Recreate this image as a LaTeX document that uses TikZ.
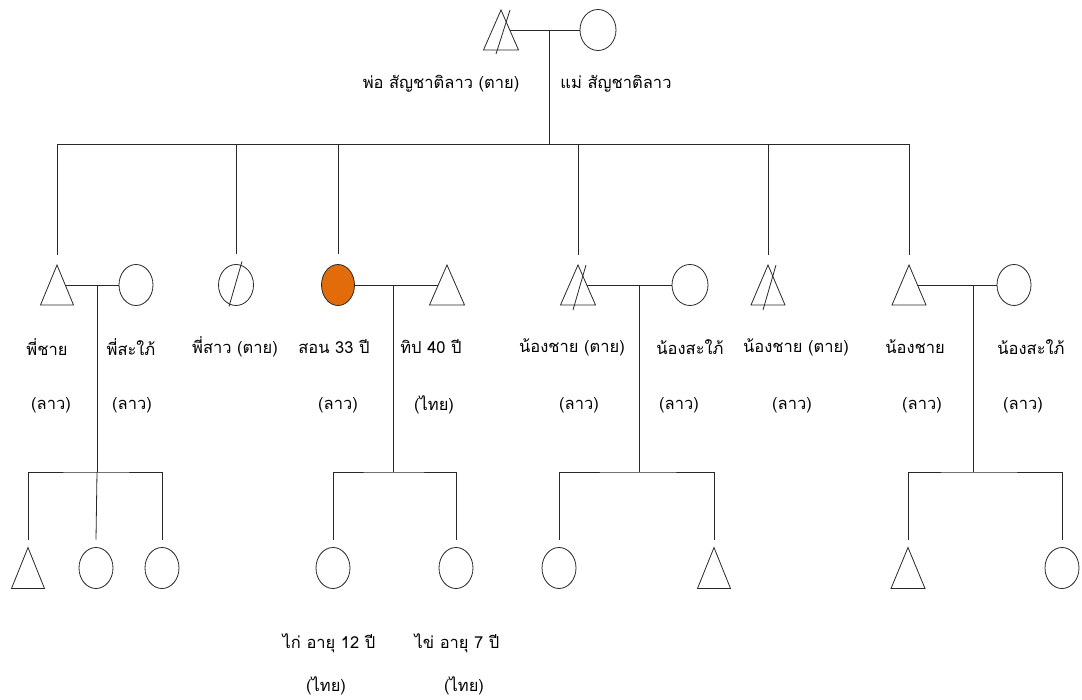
\documentclass[tikz,border=0pt]{standalone}
\usepackage{fontspec}
\newfontfamily\thaifont[Script=Thai]{Loma}
\usetikzlibrary{calc,shapes.geometric}
\definecolor{ink}{RGB}{40,40,40}
\definecolor{sonfill}{RGB}{227,108,10}
\tikzset{
  fem/.style={ellipse, draw=ink, line width=0.8pt, minimum width=34pt, minimum height=41pt, inner sep=0pt, outer sep=0pt},
  malebox/.style={draw=none, minimum width=34pt, minimum height=40pt, inner sep=0pt, outer sep=0pt},
  tri/.style={draw=ink, line width=0.8pt, line join=miter},
  link/.style={draw=ink, line width=0.8pt},
  lbl/.style={font=\thaifont\fontsize{16.5}{19}\selectfont, inner sep=0pt, text=black},
}
\begin{document}
\begin{tikzpicture}[x=1pt,y=-1pt]
\fill[white] (0,0) rectangle (1082,700);
\useasboundingbox (0,0) rectangle (1082,700);

% ---------- parents ----------
\node[malebox, minimum width=35pt, minimum height=40pt] (F) at (501,30) {};
\node[fem, minimum width=36pt] (M) at (598,30) {};
\draw[tri] (F.north) -- (F.south east) -- (F.south west) -- cycle;
\draw[link] ($(F.north)+(9,0)$) -- ($(F.south)+(-5,4)$);
\coordinate (Fr) at ($(F.north)!0.5!(F.south east)$);
\draw[link] (Fr) -- (M.west);
\coordinate (pj) at (549,30);
\coordinate (pb) at (549,144);
\draw[link] (pj) -- (pb);
\node[lbl] (Fl) at (441,84) {พ่อ สัญชาติลาว (ตาย)};
\node[lbl] (Ml) at (616,84) {แม่ สัญชาติลาว};

% ---------- generation 2 ----------
\node[malebox, minimum width=33pt] (A1) at (57,285) {};
\node[fem] (A2) at (136,285) {};
\node[fem, minimum width=35pt] (S) at (236,285) {};
\node[fem, minimum width=33pt, fill=sonfill] (E) at (338,285) {};
\node[malebox, minimum width=35pt] (E2) at (447,285) {};
\node[malebox, minimum width=35pt] (B1) at (578,285) {};
\node[fem, minimum width=36pt] (B2) at (690,285) {};
\node[malebox] (C) at (768,285) {};
\node[malebox] (D1) at (909,285) {};
\node[fem] (D2) at (1014,285) {};

\foreach \t in {A1,E2,B1,C,D1}{
  \draw[tri] (\t.north) -- (\t.south east) -- (\t.south west) -- cycle;
}
% deceased marks
\draw[link] ($(S.north)+(6,-3)$) -- ($(S.south)+(-7,1)$);
\draw[link] ($(B1.north)+(8,0)$) -- ($(B1.south)+(-5,5)$);
\draw[link] ($(C.north)+(8,0)$) -- ($(C.south)+(-5,5)$);

% sibling bus
\draw[link] ($(A1.north)+(0,-10)$) |- (pb) -| ($(D1.north)+(0,-10)$);
\foreach \t in {S,E,B1,C}{
  \draw[link] ($(\t.north)+(0,-10)$) |- (pb);
}

% couples
\coordinate (A1r) at ($(A1.north)!0.5!(A1.south east)$);
\draw[link] (A1r) -- (A2.west);
\coordinate (E2l) at ($(E2.north)!0.5!(E2.south west)$);
\draw[link] (E.east) -- (E2l);
\coordinate (B1r) at ($(B1.north)!0.5!(B1.south east)$);
\draw[link] (B1r) -- (B2.west);
\coordinate (D1r) at ($(D1.north)!0.5!(D1.south east)$);
\draw[link] (D1r) -- (D2.west);

\coordinate (Aj) at (97,285);  \coordinate (Ab) at (97,472);
\coordinate (Ej) at (393,285); \coordinate (Eb) at (393,472);
\coordinate (Bj) at (639,285); \coordinate (Bb) at (639,472);
\coordinate (Dj) at (973,285); \coordinate (Db) at (973,472);
\draw[link] (Aj) -- (Ab);
\draw[link] (Ej) -- (Eb);
\draw[link] (Bj) -- (Bb);
\draw[link] (Dj) -- (Db);

% labels generation 2
\node[lbl] (A1l) at (47,347) {พี่ชาย};
\node[lbl] (A1n) at (51,405) {(ลาว)};
\node[lbl] (A2l) at (131,347) {พี่สะใภ้};
\node[lbl] (A2n) at (132,405) {(ลาว)};
\node[lbl] (Sl) at (235,347) {พี่สาว (ตาย)};
\node[lbl] (El) at (334,347) {สอน 33 ปี};
\node[lbl] (En) at (338,405) {(ลาว)};
\node[lbl] (E2t) at (431,347) {ทิป 40 ปี};
\node[lbl] (E2n) at (434,405) {(ไทย)};
\node[lbl] (B1l) at (572,347) {น้องชาย (ตาย)};
\node[lbl] (B1n) at (579,405) {(ลาว)};
\node[lbl] (B2l) at (690,347) {น้องสะใภ้};
\node[lbl] (B2n) at (679,405) {(ลาว)};
\node[lbl] (Cl) at (796,347) {น้องชาย (ตาย)};
\node[lbl] (Cn) at (792,405) {(ลาว)};
\node[lbl] (D1l) at (915,347) {น้องชาย};
\node[lbl] (D1n) at (922,405) {(ลาว)};
\node[lbl] (D2l) at (1031,347) {น้องสะใภ้};
\node[lbl] (D2n) at (1023,405) {(ลาว)};

% ---------- generation 3 ----------
\node[malebox, minimum width=33pt, minimum height=41pt] (K1) at (28,568) {};
\node[fem] (K2) at (96,568) {};
\node[fem] (K3) at (162,568) {};
\node[fem] (G1) at (333,568) {};
\node[fem] (G2) at (456,568) {};
\node[fem] (H1) at (559,568) {};
\node[malebox, minimum width=33pt, minimum height=41pt] (H2) at (714,568) {};
\node[malebox, minimum width=34pt, minimum height=41pt] (J1) at (908,568) {};
\node[fem] (J2) at (1062,568) {};
\foreach \t in {K1,H2,J1}{
  \draw[tri] (\t.north) -- (\t.south east) -- (\t.south west) -- cycle;
}
\draw[link] ($(K1.north)+(0,-8)$) |- (Ab) -| ($(K3.north)+(0,-8)$);
\draw[link] (Ab) -- ($(K2.north)+(0,-8)$);
\draw[link] ($(G1.north)+(0,-8)$) |- (Eb) -| ($(G2.north)+(0,-8)$);
\draw[link] ($(H1.north)+(0,-8)$) |- (Bb) -| ($(H2.north)+(0,-8)$);
\draw[link] ($(J1.north)+(0,-8)$) |- (Db) -| ($(J2.north)+(0,-8)$);

\node[lbl] (G1l) at (329,643) {ไก่ อายุ 12 ปี};
\node[lbl] (G1n) at (326,686) {(ไทย)};
\node[lbl] (G2l) at (457,643) {ไข่ อายุ 7 ปี};
\node[lbl] (G2n) at (464,686) {(ไทย)};
\end{tikzpicture}
\end{document}
